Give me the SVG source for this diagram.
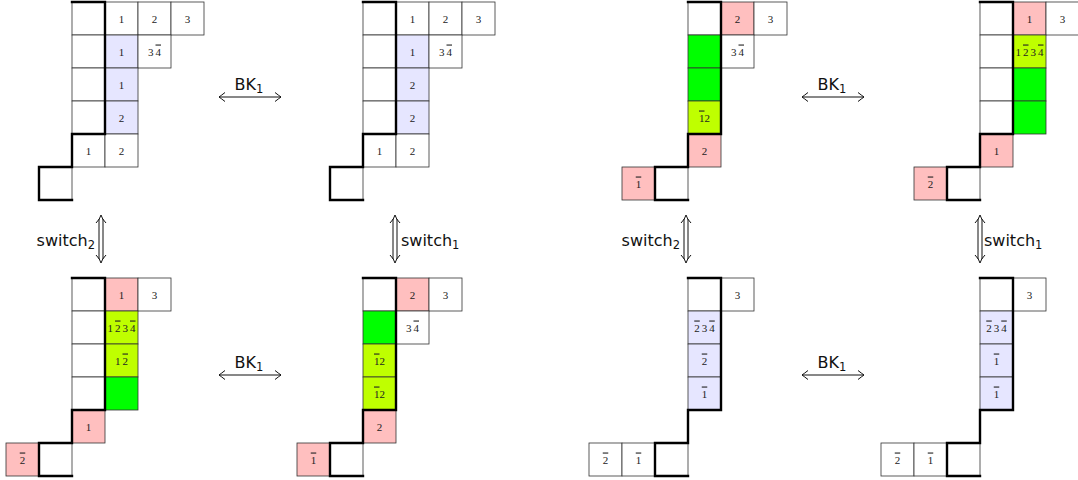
<svg xmlns="http://www.w3.org/2000/svg" width="1078" height="480" viewBox="0 0 1078 480">
<style>
.c{stroke:#333;stroke-width:0.8;fill:#fff}
.b{fill:#e6e6ff}.p{fill:#ffbfbf}.g{fill:#00ff00}.y{fill:#bfff00}
.t{font-family:"Liberation Serif",serif;font-size:11px;text-anchor:middle;fill:#222}
.o{text-decoration:overline}
.k{fill:none;stroke:#000;stroke-width:2.4;stroke-linecap:square}
.l{font-family:"DejaVu Sans",sans-serif;font-size:16px;fill:#111}
.s{font-size:11.5px}
.a{fill:none;stroke:#111;stroke-width:1}
</style>
<defs>
<marker id="ah" markerUnits="userSpaceOnUse" markerWidth="12" markerHeight="12" viewBox="-8 -6 10 12" refX="0" refY="0" orient="auto-start-reverse">
<path d="M-6,-4.5 Q-1.5,-1 0,0 Q-1.5,1 -6,4.5" class="a"/>
</marker>
</defs>

<g id="t1" transform="translate(72,2)">
<rect class="c" x="0" y="0" width="33" height="33"/><rect class="c" x="33" y="0" width="33" height="33"/><rect class="c" x="66" y="0" width="33" height="33"/><rect class="c" x="99" y="0" width="33" height="33"/>
<rect class="c" x="0" y="33" width="33" height="33"/><rect class="c b" x="33" y="33" width="33" height="33"/><rect class="c" x="66" y="33" width="33" height="33"/>
<rect class="c" x="0" y="66" width="33" height="33"/><rect class="c b" x="33" y="66" width="33" height="33"/>
<rect class="c" x="0" y="99" width="33" height="33"/><rect class="c b" x="33" y="99" width="33" height="33"/>
<rect class="c" x="0" y="132" width="33" height="33"/><rect class="c" x="33" y="132" width="33" height="33"/>
<rect class="c" x="-33" y="165" width="33" height="33"/>
<text class="t" x="49.5" y="20.5">1</text><text class="t" x="82.5" y="20.5">2</text><text class="t" x="115.5" y="20.5">3</text>
<text class="t" x="49.5" y="53.5">1</text><text class="t" x="82.5" y="53.5">3<tspan dx="2" class="o">4</tspan></text>
<text class="t" x="49.5" y="86.5">1</text>
<text class="t" x="49.5" y="119.5">2</text>
<text class="t" x="16.5" y="152.5">1</text><text class="t" x="49.5" y="152.5">2</text>
<path class="k" d="M0,0 H33 V132 H0 V165 H-33 V198 H0"/>
</g>

<g id="t2" transform="translate(363,2)">
<rect class="c" x="0" y="0" width="33" height="33"/><rect class="c" x="33" y="0" width="33" height="33"/><rect class="c" x="66" y="0" width="33" height="33"/><rect class="c" x="99" y="0" width="33" height="33"/>
<rect class="c" x="0" y="33" width="33" height="33"/><rect class="c b" x="33" y="33" width="33" height="33"/><rect class="c" x="66" y="33" width="33" height="33"/>
<rect class="c" x="0" y="66" width="33" height="33"/><rect class="c b" x="33" y="66" width="33" height="33"/>
<rect class="c" x="0" y="99" width="33" height="33"/><rect class="c b" x="33" y="99" width="33" height="33"/>
<rect class="c" x="0" y="132" width="33" height="33"/><rect class="c" x="33" y="132" width="33" height="33"/>
<rect class="c" x="-33" y="165" width="33" height="33"/>
<text class="t" x="49.5" y="20.5">1</text><text class="t" x="82.5" y="20.5">2</text><text class="t" x="115.5" y="20.5">3</text>
<text class="t" x="49.5" y="53.5">1</text><text class="t" x="82.5" y="53.5">3<tspan dx="2" class="o">4</tspan></text>
<text class="t" x="49.5" y="86.5">2</text>
<text class="t" x="49.5" y="119.5">2</text>
<text class="t" x="16.5" y="152.5">1</text><text class="t" x="49.5" y="152.5">2</text>
<path class="k" d="M0,0 H33 V132 H0 V165 H-33 V198 H0"/>
</g>

<g id="t3" transform="translate(688,2)">
<rect class="c" x="0" y="0" width="33" height="33"/><rect class="c p" x="33" y="0" width="33" height="33"/><rect class="c" x="66" y="0" width="33" height="33"/>
<rect class="c g" x="0" y="33" width="33" height="33"/><rect class="c" x="33" y="33" width="33" height="33"/>
<rect class="c g" x="0" y="66" width="33" height="33"/>
<rect class="c y" x="0" y="99" width="33" height="33"/>
<rect class="c p" x="0" y="132" width="33" height="33"/>
<rect class="c p" x="-66" y="165" width="33" height="33"/><rect class="c" x="-33" y="165" width="33" height="33"/>
<text class="t" x="49.5" y="20.5">2</text><text class="t" x="82.5" y="20.5">3</text>
<text class="t" x="49.5" y="53.5">3<tspan dx="2" class="o">4</tspan></text>
<text class="t" x="16.5" y="119.5"><tspan class="o">1</tspan>2</text>
<text class="t" x="16.5" y="152.5">2</text>
<text class="t" x="-49.5" y="185.5"><tspan class="o">1</tspan></text>
<path class="k" d="M0,0 H33 V132 H0 V165 H-33 V198 H0"/>
</g>

<g id="t4" transform="translate(980,2)">
<rect class="c" x="0" y="0" width="33" height="33"/><rect class="c p" x="33" y="0" width="33" height="33"/><rect class="c" x="66" y="0" width="33" height="33"/>
<rect class="c" x="0" y="33" width="33" height="33"/><rect class="c y" x="33" y="33" width="33" height="33"/>
<rect class="c" x="0" y="66" width="33" height="33"/><rect class="c g" x="33" y="66" width="33" height="33"/>
<rect class="c" x="0" y="99" width="33" height="33"/><rect class="c g" x="33" y="99" width="33" height="33"/>
<rect class="c p" x="0" y="132" width="33" height="33"/>
<rect class="c p" x="-66" y="165" width="33" height="33"/><rect class="c" x="-33" y="165" width="33" height="33"/>
<text class="t" x="49.5" y="20.5">1</text><text class="t" x="82.5" y="20.5">3</text>
<text class="t" x="49.5" y="53.5">1<tspan dx="2" class="o">2</tspan><tspan dx="2">3</tspan><tspan dx="2" class="o">4</tspan></text>
<text class="t" x="16.5" y="152.5">1</text>
<text class="t" x="-49.5" y="185.5"><tspan class="o">2</tspan></text>
<path class="k" d="M0,0 H33 V132 H0 V165 H-33 V198 H0"/>
</g>

<g id="t5" transform="translate(72,278)">
<rect class="c" x="0" y="0" width="33" height="33"/><rect class="c p" x="33" y="0" width="33" height="33"/><rect class="c" x="66" y="0" width="33" height="33"/>
<rect class="c" x="0" y="33" width="33" height="33"/><rect class="c y" x="33" y="33" width="33" height="33"/>
<rect class="c" x="0" y="66" width="33" height="33"/><rect class="c y" x="33" y="66" width="33" height="33"/>
<rect class="c" x="0" y="99" width="33" height="33"/><rect class="c g" x="33" y="99" width="33" height="33"/>
<rect class="c p" x="0" y="132" width="33" height="33"/>
<rect class="c p" x="-66" y="165" width="33" height="33"/><rect class="c" x="-33" y="165" width="33" height="33"/>
<text class="t" x="49.5" y="20.5">1</text><text class="t" x="82.5" y="20.5">3</text>
<text class="t" x="49.5" y="53.5">1<tspan dx="2" class="o">2</tspan><tspan dx="2">3</tspan><tspan dx="2" class="o">4</tspan></text>
<text class="t" x="49.5" y="86.5">1<tspan dx="2" class="o">2</tspan></text>
<text class="t" x="16.5" y="152.5">1</text>
<text class="t" x="-49.5" y="185.5"><tspan class="o">2</tspan></text>
<path class="k" d="M0,0 H33 V132 H0 V165 H-33 V198 H0"/>
</g>

<g id="t6" transform="translate(363,278)">
<rect class="c" x="0" y="0" width="33" height="33"/><rect class="c p" x="33" y="0" width="33" height="33"/><rect class="c" x="66" y="0" width="33" height="33"/>
<rect class="c g" x="0" y="33" width="33" height="33"/><rect class="c" x="33" y="33" width="33" height="33"/>
<rect class="c y" x="0" y="66" width="33" height="33"/>
<rect class="c y" x="0" y="99" width="33" height="33"/>
<rect class="c p" x="0" y="132" width="33" height="33"/>
<rect class="c p" x="-66" y="165" width="33" height="33"/><rect class="c" x="-33" y="165" width="33" height="33"/>
<text class="t" x="49.5" y="20.5">2</text><text class="t" x="82.5" y="20.5">3</text>
<text class="t" x="49.5" y="53.5">3<tspan dx="2" class="o">4</tspan></text>
<text class="t" x="16.5" y="86.5"><tspan class="o">1</tspan>2</text>
<text class="t" x="16.5" y="119.5"><tspan class="o">1</tspan>2</text>
<text class="t" x="16.5" y="152.5">2</text>
<text class="t" x="-49.5" y="185.5"><tspan class="o">1</tspan></text>
<path class="k" d="M0,0 H33 V132 H0 V165 H-33 V198 H0"/>
</g>

<g id="t7" transform="translate(688,278)">
<rect class="c" x="0" y="0" width="33" height="33"/><rect class="c" x="33" y="0" width="33" height="33"/>
<rect class="c b" x="0" y="33" width="33" height="33"/>
<rect class="c b" x="0" y="66" width="33" height="33"/>
<rect class="c b" x="0" y="99" width="33" height="33"/>
<rect class="c" x="-99" y="165" width="33" height="33"/><rect class="c" x="-66" y="165" width="33" height="33"/><rect class="c" x="-33" y="165" width="33" height="33"/>
<text class="t" x="49.5" y="20.5">3</text>
<text class="t" x="16.5" y="53.5"><tspan class="o">2</tspan><tspan dx="2">3</tspan><tspan dx="2" class="o">4</tspan></text>
<text class="t" x="16.5" y="86.5"><tspan class="o">2</tspan></text>
<text class="t" x="16.5" y="119.5"><tspan class="o">1</tspan></text>
<text class="t" x="-82.5" y="185.5"><tspan class="o">2</tspan></text>
<text class="t" x="-49.5" y="185.5"><tspan class="o">1</tspan></text>
<path class="k" d="M0,0 H33 V132 H0 V165 H-33 V198 H0"/>
</g>

<g id="t8" transform="translate(980,278)">
<rect class="c" x="0" y="0" width="33" height="33"/><rect class="c" x="33" y="0" width="33" height="33"/>
<rect class="c b" x="0" y="33" width="33" height="33"/>
<rect class="c b" x="0" y="66" width="33" height="33"/>
<rect class="c b" x="0" y="99" width="33" height="33"/>
<rect class="c" x="-99" y="165" width="33" height="33"/><rect class="c" x="-66" y="165" width="33" height="33"/><rect class="c" x="-33" y="165" width="33" height="33"/>
<text class="t" x="49.5" y="20.5">3</text>
<text class="t" x="16.5" y="53.5"><tspan class="o">2</tspan><tspan dx="2">3</tspan><tspan dx="2" class="o">4</tspan></text>
<text class="t" x="16.5" y="86.5"><tspan class="o">1</tspan></text>
<text class="t" x="16.5" y="119.5"><tspan class="o">1</tspan></text>
<text class="t" x="-82.5" y="185.5"><tspan class="o">2</tspan></text>
<text class="t" x="-49.5" y="185.5"><tspan class="o">1</tspan></text>
<path class="k" d="M0,0 H33 V132 H0 V165 H-33 V198 H0"/>
</g>

<g id="connectors">
<line class="a" x1="219" y1="97" x2="281" y2="97" marker-start="url(#ah)" marker-end="url(#ah)"/>
<line class="a" x1="802" y1="97" x2="864" y2="97" marker-start="url(#ah)" marker-end="url(#ah)"/>
<line class="a" x1="219" y1="375" x2="281" y2="375" marker-start="url(#ah)" marker-end="url(#ah)"/>
<line class="a" x1="802" y1="375" x2="864" y2="375" marker-start="url(#ah)" marker-end="url(#ah)"/>
<g class="a">
<path d="M99,219 V259 M103,219 V259 M96,223 Q100,219 101,215 Q102,219 106,223 M96,255 Q100,259 101,263 Q102,259 106,255"/>
<path d="M393,219 V259 M397,219 V259 M390,223 Q394,219 395,215 Q396,219 400,223 M390,255 Q394,259 395,263 Q396,259 400,255"/>
<path d="M684,219 V259 M688,219 V259 M681,223 Q685,219 686,215 Q687,219 691,223 M681,255 Q685,259 686,263 Q687,259 691,255"/>
<path d="M978,219 V259 M982,219 V259 M975,223 Q979,219 980,215 Q981,219 985,223 M975,255 Q979,259 980,263 Q981,259 985,255"/>
</g>
<text class="l" x="249" y="90" text-anchor="middle">BK<tspan class="s" dy="3">1</tspan></text>
<text class="l" x="832" y="90" text-anchor="middle">BK<tspan class="s" dy="3">1</tspan></text>
<text class="l" x="249" y="368" text-anchor="middle">BK<tspan class="s" dy="3">1</tspan></text>
<text class="l" x="832" y="368" text-anchor="middle">BK<tspan class="s" dy="3">1</tspan></text>
<text class="l" x="95" y="246" text-anchor="end">switch<tspan class="s" dy="3">2</tspan></text>
<text class="l" x="401" y="246">switch<tspan class="s" dy="3">1</tspan></text>
<text class="l" x="680" y="246" text-anchor="end">switch<tspan class="s" dy="3">2</tspan></text>
<text class="l" x="984" y="246">switch<tspan class="s" dy="3">1</tspan></text>
</g>
</svg>
